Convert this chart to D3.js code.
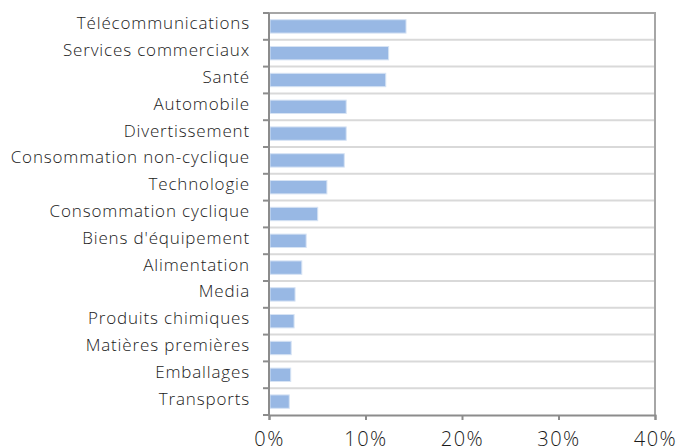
<!DOCTYPE html>
<html>
<head>
<meta charset="utf-8">
<script src="https://cdn.jsdelivr.net/npm/d3@7"></script>
<style>
  body { margin: 0; background: #fff; }
  text { font-family: "Open Sans", sans-serif; font-weight: 300; fill: #1a1a1a; }
</style>
</head>
<body>
<div id="chart"></div>
<script>
'use strict';

const categories = ['Télécommunications', 'Services commerciaux', 'Santé', 'Automobile', 'Divertissement',
  'Consommation non-cyclique', 'Technologie', 'Consommation cyclique', "Biens d'équipement", 'Alimentation',
  'Media', 'Produits chimiques', 'Matières premières', 'Emballages', 'Transports'];
const values = [14.2, 12.4, 12.1, 8.0, 8.0, 7.8, 6.0, 5.05, 3.85, 3.4, 2.7, 2.6, 2.3, 2.25, 2.1];
const xTicks = [0, 10, 20, 30, 40];

const width = 680, height = 448;
const margin = {top: 13, right: 25, bottom: 33, left: 269};

const svg = d3.select('#chart').append('svg')
    .attr('width', width)
    .attr('height', height);

const x = d3.scaleLinear().domain([0, 40]).range([margin.left, width - margin.right]);
const y = d3.scaleBand().domain(categories).range([margin.top, height - margin.bottom]).paddingInner(0.5).paddingOuter(0.25);

const step = y.step();
const boundaries = d3.range(categories.length + 1).map(i => margin.top + i * step);  // band edges

// light gridlines between categories
svg.append('g').selectAll('line')
    .data(boundaries.slice(1, -1))
    .enter().append('line')
    .attr('x1', margin.left).attr('x2', width - margin.right)
    .attr('y1', d => d).attr('y2', d => d)
    .attr('stroke', '#d9d9d9').attr('stroke-width', 2);

// frame top + right
svg.append('path')
    .attr('d', `M${margin.left},${margin.top}H${width - margin.right}V${height - margin.bottom}`)
    .attr('fill', 'none').attr('stroke', '#a6a6a6').attr('stroke-width', 2);

// bars
svg.append('g').selectAll('rect')
    .data(values)
    .enter().append('rect')
    .attr('x', x(0) + 1)
    .attr('y', (d, i) => y(categories[i]))
    .attr('width', d => x(d) - x(0) - 1)
    .attr('height', y.bandwidth())
    .attr('fill', '#98b8e4')
    .attr('stroke', '#d6e3f4')
    .attr('stroke-width', 1);

// left axis with ticks at band edges
const left = svg.append('g');
left.append('line')
    .attr('x1', margin.left).attr('x2', margin.left)
    .attr('y1', margin.top).attr('y2', height - margin.bottom)
    .attr('stroke', '#8c8c8c').attr('stroke-width', 2);
left.selectAll('line.tick')
    .data(boundaries)
    .enter().append('line')
    .attr('class', 'tick')
    .attr('x1', margin.left - 6).attr('x2', margin.left)
    .attr('y1', d => d).attr('y2', d => d)
    .attr('stroke', '#8c8c8c').attr('stroke-width', 2);
left.selectAll('text')
    .data(categories)
    .enter().append('text')
    .attr('x', margin.left - 19)
    .attr('y', d => y(d) + y.bandwidth() / 2 - 3)
    .attr('dy', '0.35em')
    .attr('text-anchor', 'end')
    .attr('font-size', 17)
    .attr('letter-spacing', 0.85)
    .text(d => d);

// bottom axis
const xAxis = d3.axisBottom(x).tickValues(xTicks).tickFormat(d => d + '%').tickSize(5).tickPadding(12);
const bottom = svg.append('g')
    .attr('transform', `translate(0,${height - margin.bottom})`)
    .call(xAxis);
bottom.select('.domain').attr('stroke', '#8c8c8c').attr('stroke-width', 2);
bottom.selectAll('.tick line').attr('stroke', '#8c8c8c').attr('stroke-width', 2);
bottom.selectAll('.tick text').attr('font-size', 20).attr('fill', '#1a1a1a')
    .attr('letter-spacing', 1.5)
    .style('font-family', '"Open Sans", sans-serif').style('font-weight', 300);
</script>
</body>
</html>
